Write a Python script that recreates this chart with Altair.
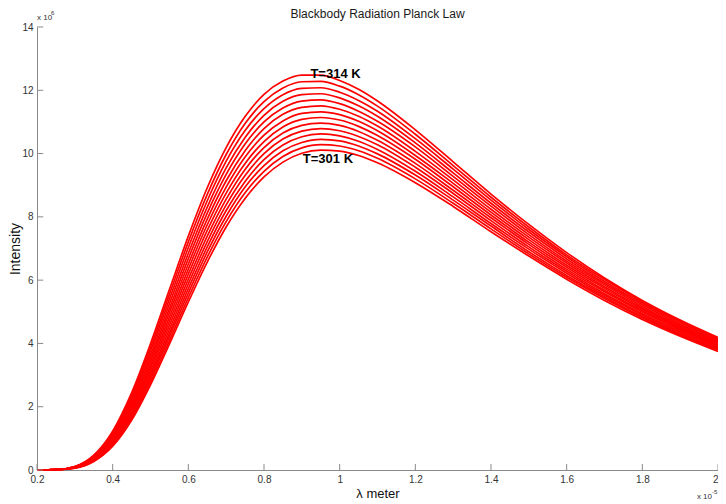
import altair as alt
import pandas as pd

# Wavelength (x 1e-5 m) sampled along each curve
LAMBDA = [0.2, 0.25, 0.3, 0.35, 0.4, 0.45, 0.5, 0.55, 0.6, 0.65, 0.7, 0.75, 0.8, 0.85,
          0.9, 0.95, 1.0, 1.05, 1.1, 1.2, 1.3, 1.4, 1.5, 1.6, 1.7, 1.8, 1.9, 2.0]

TEMPS = [301, 302, 303, 304, 305, 306, 307, 308, 309, 310, 311, 312, 313, 314]

# Intensity (x 1e6) read for each temperature
I301 = [0.00, 0.01, 0.06, 0.27, 0.75, 1.57, 2.69, 3.98, 5.31, 6.57, 7.68, 8.58, 9.26, 9.73, 10.01, 10.11, 10.08, 9.94, 9.71, 9.08, 8.33, 7.53, 6.76, 6.03, 5.36, 4.76, 4.23, 3.75]
I302 = [0.00, 0.01, 0.06, 0.28, 0.78, 1.63, 2.77, 4.09, 5.45, 6.73, 7.85, 8.76, 9.44, 9.91, 10.18, 10.28, 10.24, 10.09, 9.85, 9.20, 8.43, 7.62, 6.83, 6.09, 5.42, 4.81, 4.27, 3.79]
I303 = [0.00, 0.01, 0.07, 0.29, 0.81, 1.68, 2.86, 4.21, 5.59, 6.89, 8.02, 8.94, 9.62, 10.09, 10.35, 10.45, 10.40, 10.24, 9.99, 9.32, 8.53, 7.71, 6.90, 6.15, 5.47, 4.85, 4.30, 3.82]
I304 = [0.00, 0.01, 0.07, 0.30, 0.84, 1.74, 2.94, 4.32, 5.73, 7.05, 8.20, 9.12, 9.81, 10.27, 10.53, 10.62, 10.56, 10.39, 10.13, 9.44, 8.63, 7.79, 6.98, 6.22, 5.52, 4.90, 4.34, 3.85]
I305 = [0.00, 0.01, 0.07, 0.32, 0.87, 1.80, 3.03, 4.44, 5.88, 7.22, 8.38, 9.31, 10.00, 10.46, 10.71, 10.79, 10.72, 10.54, 10.28, 9.57, 8.74, 7.88, 7.05, 6.28, 5.57, 4.94, 4.38, 3.88]
I306 = [0.00, 0.01, 0.08, 0.33, 0.91, 1.86, 3.13, 4.57, 6.03, 7.39, 8.56, 9.50, 10.19, 10.65, 10.89, 10.96, 10.89, 10.70, 10.42, 9.69, 8.84, 7.97, 7.13, 6.34, 5.63, 4.99, 4.42, 3.92]
I307 = [0.00, 0.01, 0.08, 0.34, 0.94, 1.93, 3.23, 4.70, 6.19, 7.57, 8.75, 9.69, 10.38, 10.84, 11.08, 11.14, 11.06, 10.86, 10.57, 9.82, 8.95, 8.06, 7.20, 6.41, 5.68, 5.03, 4.46, 3.95]
I308 = [0.00, 0.01, 0.08, 0.36, 0.98, 1.99, 3.32, 4.83, 6.35, 7.75, 8.94, 9.89, 10.58, 11.03, 11.27, 11.32, 11.23, 11.02, 10.72, 9.94, 9.06, 8.15, 7.28, 6.47, 5.74, 5.08, 4.50, 3.98]
I309 = [0.00, 0.01, 0.09, 0.38, 1.02, 2.06, 3.43, 4.97, 6.51, 7.93, 9.14, 10.09, 10.79, 11.24, 11.46, 11.51, 11.40, 11.18, 10.87, 10.07, 9.17, 8.24, 7.36, 6.54, 5.79, 5.12, 4.53, 4.02]
I310 = [0.00, 0.01, 0.09, 0.39, 1.06, 2.13, 3.53, 5.10, 6.68, 8.12, 9.34, 10.30, 11.00, 11.44, 11.66, 11.70, 11.58, 11.34, 11.02, 10.21, 9.28, 8.34, 7.44, 6.60, 5.85, 5.17, 4.57, 4.05]
I311 = [0.00, 0.01, 0.10, 0.41, 1.10, 2.21, 3.64, 5.25, 6.85, 8.31, 9.55, 10.51, 11.21, 11.65, 11.86, 11.89, 11.76, 11.51, 11.18, 10.34, 9.39, 8.43, 7.52, 6.67, 5.90, 5.22, 4.61, 4.08]
I312 = [0.00, 0.01, 0.10, 0.43, 1.14, 2.28, 3.76, 5.40, 7.03, 8.51, 9.76, 10.73, 11.42, 11.86, 12.06, 12.08, 11.94, 11.68, 11.34, 10.47, 9.51, 8.53, 7.60, 6.74, 5.96, 5.27, 4.66, 4.12]
I313 = [0.00, 0.01, 0.11, 0.45, 1.19, 2.36, 3.87, 5.55, 7.21, 8.71, 9.97, 10.95, 11.64, 12.07, 12.27, 12.28, 12.13, 11.86, 11.50, 10.61, 9.62, 8.62, 7.68, 6.80, 6.02, 5.32, 4.70, 4.15]
I314 = [0.00, 0.01, 0.11, 0.47, 1.23, 2.44, 3.99, 5.70, 7.39, 8.92, 10.19, 11.17, 11.87, 12.29, 12.48, 12.48, 12.31, 12.03, 11.66, 10.75, 9.74, 8.72, 7.76, 6.87, 6.07, 5.36, 4.74, 4.19]

SERIES = [I301, I302, I303, I304, I305, I306, I307, I308, I309, I310, I311, I312, I313, I314]

X_TICKS = [0.2, 0.4, 0.6, 0.8, 1.0, 1.2, 1.4, 1.6, 1.8, 2.0]
Y_TICKS = [0, 2, 4, 6, 8, 10, 12, 14]

LABEL_TEXT = ["T=314 K", "T=301 K"]
LABEL_X = [0.989, 0.969]
LABEL_Y = [12.52, 9.83]

TITLE = "Blackbody Radiation Planck Law"
X_TITLE = "λ meter"
Y_TITLE = "Intensity"

X_DOMAIN = [0.2, 2.0]
Y_DOMAIN = [0, 14]
TICK_LEN_Y = 0.19     # inward tick length on x axis, in y data units
TICK_LEN_X = 0.0165   # inward tick length on y axis, in x data units

FONT = "Liberation Sans"
RED = "#ff0000"
AXIS_GRAY = "#8a8a8a"
LABEL_GRAY = "#333333"

rows = []
for t, vals in zip(TEMPS, SERIES):
    for lam, v in zip(LAMBDA, vals):
        rows.append({"lam": lam, "I": v, "T": t})
curves = pd.DataFrame(rows)

xs = alt.Scale(domain=X_DOMAIN, nice=False, zero=False)
ys = alt.Scale(domain=Y_DOMAIN, nice=False, zero=False)

COMMON = dict(grid=False, ticks=False, domainColor=AXIS_GRAY, domainWidth=1,
              labelColor=LABEL_GRAY, labelFont=FONT, labelFontSize=10,
              labelPadding=4, labelFlush=False,
              titleFont=FONT, titleFontWeight="normal", titleColor="#111111")

AX = alt.Axis(values=X_TICKS, format="~g", titleY=17, titleBaseline="top",
              titleFontSize=13,
              labelAlign={"condition": {"test": "datum.value >= 2", "value": "right"},
                          "value": "center"},
              **COMMON)
AY = alt.Axis(values=Y_TICKS, titleX=-15, titleFontSize=14, **COMMON)


def X(field="lam"):
    return alt.X(f"{field}:Q", scale=xs, title=X_TITLE, axis=AX)


def Y(field="I"):
    return alt.Y(f"{field}:Q", scale=ys, title=Y_TITLE, axis=AY)


lines = alt.Chart(curves).mark_line(
    color=RED, strokeWidth=1.7, interpolate="monotone"
).encode(x=X(), y=Y(), detail="T:N")

xt = pd.DataFrame({"lam": X_TICKS, "I": [Y_DOMAIN[0]] * len(X_TICKS),
                   "I2": [Y_DOMAIN[0] + TICK_LEN_Y] * len(X_TICKS)})
xticks = alt.Chart(xt).mark_rule(color=AXIS_GRAY, strokeWidth=1).encode(
    x=X(), y=Y(), y2="I2:Q")

yt = pd.DataFrame({"I": Y_TICKS, "lam": [X_DOMAIN[0]] * len(Y_TICKS),
                   "lam2": [X_DOMAIN[0] + TICK_LEN_X] * len(Y_TICKS)})
yticks = alt.Chart(yt).mark_rule(color=AXIS_GRAY, strokeWidth=1).encode(
    x=X(), x2="lam2:Q", y=Y())

lab = pd.DataFrame({"text": LABEL_TEXT, "lam": LABEL_X, "I": LABEL_Y})
labels = alt.Chart(lab).mark_text(
    font=FONT, fontSize=13, fontWeight="bold", color="#000000",
    align="center", baseline="middle"
).encode(x=X(), y=Y(), text="text:N")


def note(txt, xv, yv, dx, dy, size, align="left", color=LABEL_GRAY):
    d = pd.DataFrame({"lam": [xv], "I": [yv], "t": [txt]})
    return alt.Chart(d).mark_text(
        font=FONT, fontSize=size, color=color,
        align=align, baseline="middle", dx=dx, dy=dy
    ).encode(x=X(), y=Y(), text="t:N")


title = note(TITLE, (X_DOMAIN[0] + X_DOMAIN[1]) / 2, Y_DOMAIN[1], 0, -13, 12,
             align="center", color="#1a1a1a")
exp_y = note("x 10", X_DOMAIN[0], Y_DOMAIN[1], 0, -9, 8)
exp_y_sup = note("6", X_DOMAIN[0], Y_DOMAIN[1], 14, -14, 6)
exp_x = note("x 10", X_DOMAIN[1], Y_DOMAIN[0], -6, 27, 8, align="right")
exp_x_sup = note("-5", X_DOMAIN[1], Y_DOMAIN[0], -6, 22, 6)

chart = alt.layer(
    lines, xticks, yticks, labels, title, exp_y, exp_y_sup, exp_x, exp_x_sup
).properties(
    width=681, height=443,
    background="white",
    autosize=alt.AutoSizeParams(type="none"),
    padding={"left": 29, "top": 19, "right": 0, "bottom": 34},
).configure_view(stroke=None)

chart.save("out.html", embed_options={"renderer": "svg", "actions": False})
